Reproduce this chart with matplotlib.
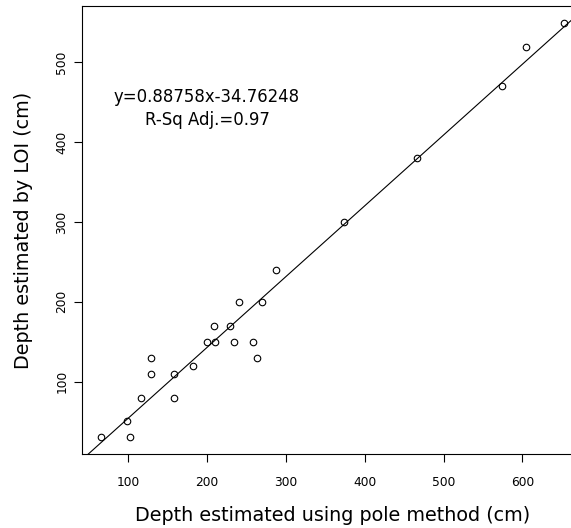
import matplotlib
matplotlib.use("Agg")
import matplotlib.pyplot as plt
import numpy as np

plt.rcParams['font.family'] = ['DejaVu Sans']

pole_depth = [65, 99, 102, 116, 129, 129, 158, 158, 182, 200, 209, 210, 229, 234,
              240, 258, 264, 270, 288, 374, 466, 574, 605, 653]
loi_depth = [30, 50, 30, 80, 130, 110, 110, 80, 120, 150, 170, 150, 170, 150,
             200, 150, 130, 200, 240, 300, 380, 470, 520, 550]
slope = 0.88758
intercept = -34.76248
x_ticks = [100, 200, 300, 400, 500, 600]
y_ticks = [100, 200, 300, 400, 500]
eq_text = "y=0.88758x-34.76248"
r2_text = "R-Sq Adj.=0.97"

fig = plt.figure(figsize=(5.71, 5.28), dpi=100)
ax = fig.add_axes([82/571, 74/528, 500.7/571, 448/528])

x = np.array(pole_depth)
y = np.array(loi_depth)
xr = x.max() - x.min()
yr = y.max() - y.min()
xlim = (x.min() - 0.04*xr, x.max() + 0.04*xr)
ylim = (y.min() - 0.04*yr, y.max() + 0.04*yr)

ax.plot(x, y, linestyle='none', marker='o', markersize=4.7, markerfacecolor='none',
        markeredgecolor='black', markeredgewidth=0.8)
lx = np.array([xlim[0] - 100, xlim[1] + 100])
ax.plot(lx, slope*lx + intercept, color='black', linewidth=0.8)

ax.set_xlim(*xlim)
ax.set_ylim(*ylim)
ax.set_xticks(x_ticks)
ax.set_yticks(y_ticks)
ax.tick_params(axis='both', direction='out', length=5.5, width=0.8, labelsize=8.8)
ax.tick_params(axis='x', pad=10.5)
ax.tick_params(axis='y', pad=4.4)
for lab in ax.get_yticklabels():
    lab.set_rotation(90)
    lab.set_va('center')
    lab.set_ha('right')
for s in ax.spines.values():
    s.set_linewidth(0.8)

ax.set_xlabel("Depth estimated using pole method (cm)", fontsize=13.8, labelpad=11.9)
ax.set_ylabel("Depth estimated by LOI (cm)", fontsize=13.8, labelpad=15.8)

ax.text(200, 450, eq_text, ha='center', va='baseline', fontsize=11.9)
ax.text(200, 422, r2_text, ha='center', va='baseline', fontsize=11.9)

fig.savefig("out.png", dpi=100)
